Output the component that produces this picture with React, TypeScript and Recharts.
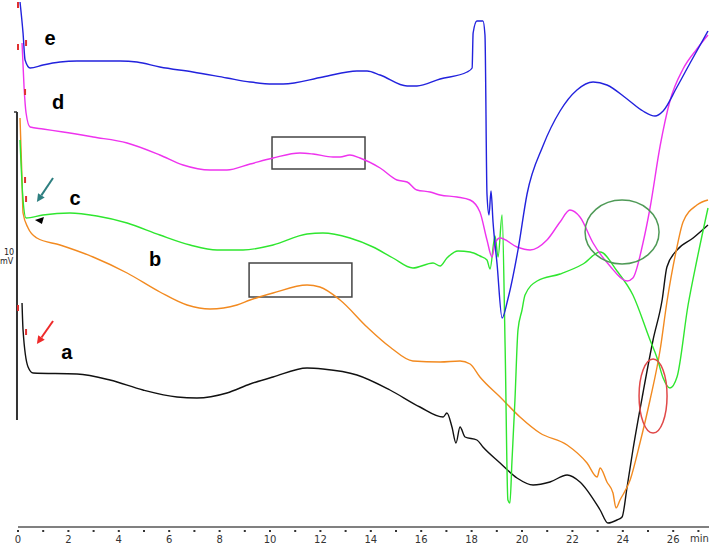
import React from "react";
import {
  LineChart, Line, XAxis, YAxis, ReferenceArea, ReferenceDot, ReferenceLine,
} from "recharts";

// --- traces: [time (min), detector response (a.u.)] ---
const traceA: [number, number][] = [
  [0.16, 224], [0.2, 197], [0.4, 160], [0.6, 154], [2.34, 153], [3.65, 147], [4.96, 137],
  [6.31, 130], [7.1, 129], [8.29, 134], [9.21, 143], [10.12, 150], [11.47, 159], [12.1, 158],
  [13.45, 152], [14.76, 137], [15.95, 120], [16.87, 110], [17.02, 114], [17.22, 100], [17.38, 84],
  [17.54, 100], [17.74, 90], [18.21, 87], [18.45, 80], [19.13, 64], [19.8, 49], [20.44, 42],
  [21.11, 45], [21.79, 52], [22.3, 45], [23.1, 17], [23.41, 4], [23.77, 7], [23.97, 10],
  [24.17, 40], [24.4, 77], [24.8, 134], [25.2, 187], [25.56, 227], [25.75, 260], [26.15, 277],
  [26.79, 289], [27.38, 302],
];

const traceB: [number, number][] = [
  [0.08, 409], [0.16, 347], [0.2, 314], [0.4, 299], [0.75, 289], [1.67, 282], [2.98, 270],
  [4.33, 254], [5.63, 235], [6.71, 222], [7.62, 218], [8.69, 222], [9.21, 227], [10.12, 234],
  [11.47, 242], [11.98, 240], [12.78, 227], [13.85, 200], [14.76, 180], [15.67, 166], [16.75, 165],
  [17.54, 166], [17.94, 163], [18.33, 150], [19.13, 130], [19.92, 110], [20.71, 94], [21.79, 82],
  [22.58, 64], [22.98, 50], [23.1, 59], [23.37, 45], [23.61, 34], [23.73, 19], [23.89, 27],
  [24.29, 47], [24.68, 84], [25.08, 127], [25.48, 177], [25.75, 225], [26.15, 280], [26.39, 305],
  [26.94, 322], [27.38, 327],
];

const traceC: [number, number][] = [
  [0.08, 387], [0.2, 327], [0.32, 309], [0.99, 312], [2.06, 314], [3.13, 311], [4.33, 304],
  [5.63, 292], [6.83, 282], [7.9, 277], [8.93, 277], [10.12, 282], [11.47, 293], [12.1, 294],
  [13.17, 289], [14.09, 280], [14.88, 269], [15.67, 259], [16.47, 264], [16.75, 261], [17.02, 269],
  [17.46, 276], [17.94, 275], [18.33, 271], [18.61, 267], [18.73, 258], [18.93, 291], [19.05, 270],
  [19.21, 312], [19.33, 180], [19.44, 27], [19.52, 24], [19.6, 65], [19.72, 127], [19.84, 197],
  [20.0, 217], [20.12, 232], [20.6, 246], [21.51, 253], [22.42, 263], [23.1, 275], [23.77, 256],
  [24.4, 232], [25.08, 187], [25.36, 169], [25.6, 149], [25.87, 139], [26.15, 150], [26.59, 222],
  [26.94, 267], [27.38, 319],
];

const traceD: [number, number][] = [
  [0.16, 484], [0.24, 440], [0.32, 414], [0.48, 400], [0.99, 398], [1.79, 395], [2.98, 390],
  [4.33, 384], [5.63, 372], [6.55, 362], [7.62, 357], [8.29, 357], [9.21, 363], [10.12, 369],
  [11.19, 374], [11.71, 373], [12.5, 370], [12.78, 370], [13.17, 372], [13.57, 369], [14.37, 359],
  [15.04, 347], [15.44, 345], [15.83, 337], [16.35, 335], [16.75, 332], [17.42, 330], [17.94, 327],
  [18.33, 315], [18.61, 287], [18.81, 270], [18.93, 284], [19.13, 289], [19.8, 280], [20.32, 277],
  [20.99, 287], [21.51, 305], [21.9, 317], [22.3, 310], [22.82, 284], [23.49, 261], [24.17, 246],
  [24.4, 249], [24.8, 284], [25.08, 319], [25.48, 381], [25.87, 426], [26.39, 458], [26.94, 478],
  [27.38, 492],
];

const traceE: [number, number][] = [
  [0.08, 525], [0.2, 494], [0.28, 467], [0.48, 459], [0.99, 462], [1.67, 465], [2.34, 466],
  [4.05, 466], [4.72, 465], [5.63, 460], [6.94, 455], [8.29, 449], [9.21, 445], [10.12, 443],
  [10.52, 443], [12.1, 450], [13.45, 456], [13.85, 456], [14.37, 452], [15.44, 441], [15.83, 441],
  [16.75, 448], [17.82, 455], [18.02, 459], [18.06, 494], [18.21, 506], [18.45, 506], [18.53, 492],
  [18.61, 333], [18.69, 312], [18.77, 336], [18.85, 305], [19.01, 263], [19.21, 209], [19.44, 228],
  [19.84, 277], [20.2, 333], [20.83, 381], [21.51, 416], [22.18, 437], [22.82, 445], [23.37, 442],
  [24.17, 428], [24.8, 416], [25.28, 411], [25.6, 416], [26.15, 440], [26.67, 464], [27.38, 496],
];

const minuteTicks = [0, 1, 2, 3, 4, 5, 6, 7, 8, 9, 10, 11, 12, 13, 14, 15, 16, 17, 18, 19, 20, 21, 22, 23, 24, 25, 26, 27];

// small red injection/event marks near the start of each run
const eventMarks: [number, number][] = [
  [0, 522], [0, 480], [0.32, 484], [0.28, 435], [0.28, 347], [0.32, 328], [0, 219], [0.32, 195],
];

const toRows = (pts: [number, number][]) => pts.map(([t, v]) => ({ t, v }));

const traces = [
  { key: "a", color: "#111111", rows: toRows(traceA) },
  { key: "b", color: "#f28a20", rows: toRows(traceB) },
  { key: "c", color: "#2fe62f", rows: toRows(traceC) },
  { key: "d", color: "#ee33ee", rows: toRows(traceD) },
  { key: "e", color: "#2222dd", rows: toRows(traceE) },
];

// labels for the traces, anchored in data units
const traceLabels = [
  { text: "e", t: 1.27, v: 489 },
  { text: "d", t: 1.59, v: 425 },
  { text: "c", t: 2.26, v: 329 },
  { text: "b", t: 5.44, v: 268 },
  { text: "a", t: 1.94, v: 175 },
];

const FONT = "'Liberation Sans', Arial, sans-serif";
const AXIS_FONT = "Tahoma, 'DejaVu Sans', sans-serif";

const MinuteTick = (props: any) => {
  const { x, y, payload } = props;
  const m = payload.value;
  return (
    <g>
      <rect x={x - 1} y={y + 3} width={2} height={2} fill="#333" />
      {m % 2 === 0 && (
        <text x={x} y={y + 16} textAnchor="middle" fontSize={10} fill="#333" fontFamily={AXIS_FONT}>
          {m}
        </text>
      )}
    </g>
  );
};

const arrowShape = (color: string) => (props: any) => {
  const { x1, y1, x2, y2 } = props;
  const ang = Math.atan2(y2 - y1, x2 - x1);
  const len = 8, half = 4;
  const bx = x2 - len * Math.cos(ang), by = y2 - len * Math.sin(ang);
  const px = -Math.sin(ang) * half, py = Math.cos(ang) * half;
  return (
    <g>
      <line x1={x1} y1={y1} x2={bx} y2={by} stroke={color} strokeWidth={2} />
      <polygon points={`${x2},${y2} ${bx + px},${by + py} ${bx - px},${by - py}`} fill={color} />
    </g>
  );
};

const ellipseShape = (color: string, rx: number, ry: number) => (props: any) => (
  <ellipse cx={props.cx} cy={props.cy} rx={rx} ry={ry} fill="none" stroke={color} strokeWidth={1.5} />
);

const letterShape = (text: string) => (props: any) => (
  <text x={props.cx} y={props.cy + 7} textAnchor="middle" fontSize={20} fontWeight="bold" fontFamily={FONT} fill="#000">
    {text}
  </text>
);

const pointerShape = (props: any) => {
  const { cx, cy } = props;
  return <polygon points={`${cx - 5},${cy - 1} ${cx + 4},${cy - 4} ${cx + 2},${cy + 3}`} fill="#000" />;
};

const markShape = (props: any) => (
  <rect x={props.cx - 1} y={props.cy - 3} width={2} height={6} fill="#e03030" />
);

export default function App() {
  return (
    <div style={{ position: "absolute", left: 0, top: 0, width: 709, height: 545, background: "#fff", overflow: "hidden" }}>
      <LineChart width={709} height={545} margin={{ top: 0, right: 0, bottom: 0, left: 18 }}>
        <XAxis
          type="number"
          dataKey="t"
          domain={[0, 27.42]}
          ticks={minuteTicks}
          interval={0}
          allowDataOverflow
          height={18}
          tickSize={0}
          tickMargin={0}
          tickLine={false}
          axisLine={{ stroke: "#808080", strokeWidth: 2 }}
          tick={<MinuteTick />}
        />
        <YAxis type="number" dataKey="v" domain={[0, 527]} hide allowDataOverflow />

        <ReferenceLine
          segment={[{ x: -0.04, y: 107 }, { x: -0.04, y: 415 }]}
          stroke="#333"
          strokeWidth={2}
          ifOverflow="visible"
        />
        <ReferenceLine
          segment={[{ x: -0.16, y: 415 }, { x: -0.04, y: 415 }]}
          stroke="#333"
          strokeWidth={1.5}
          ifOverflow="visible"
        />

        {traces.map((tr) => (
          <Line
            key={tr.key}
            data={tr.rows}
            dataKey="v"
            type="monotone"
            stroke={tr.color}
            strokeWidth={1.4}
            dot={false}
            activeDot={false}
            isAnimationActive={false}
          />
        ))}

        {eventMarks.map(([t, v], i) => (
          <ReferenceDot key={i} x={t} y={v} r={1} ifOverflow="visible" shape={markShape} />
        ))}

        <ReferenceArea x1={10.08} x2={13.77} y1={358} y2={390} fill="none" stroke="#444" strokeWidth={1.5} ifOverflow="visible" />
        <ReferenceArea x1={9.17} x2={13.25} y1={230} y2={264} fill="none" stroke="#444" strokeWidth={1.5} ifOverflow="visible" />

        <ReferenceDot x={23.97} y={295} r={1} ifOverflow="visible" shape={ellipseShape("#4f9a57", 37, 32)} />
        <ReferenceDot x={25.2} y={131} r={1} ifOverflow="visible" shape={ellipseShape("#e04848", 14, 37)} />

        <ReferenceLine segment={[{ x: 1.39, y: 349 }, { x: 0.75, y: 325 }]} ifOverflow="visible" shape={arrowShape("#2e7f80")} />
        <ReferenceLine segment={[{ x: 1.39, y: 206 }, { x: 0.75, y: 183 }]} ifOverflow="visible" shape={arrowShape("#ee2a2a")} />
        <ReferenceDot x={0.87} y={306} r={1} ifOverflow="visible" shape={pointerShape} />

        {traceLabels.map((l) => (
          <ReferenceDot key={l.text} x={l.t} y={l.v} r={1} ifOverflow="visible" shape={letterShape(l.text)} />
        ))}
      </LineChart>

      <div style={{ position: "absolute", left: 4, top: 248, fontSize: 8, lineHeight: "9px", fontFamily: AXIS_FONT, color: "#222", textAlign: "center" }}>
        <div>10</div>
        <div style={{ marginLeft: -5 }}>mV</div>
      </div>
      <div style={{ position: "absolute", left: 690, top: 533, fontSize: 10, fontFamily: AXIS_FONT, color: "#333" }}>
        min
      </div>
    </div>
  );
}
